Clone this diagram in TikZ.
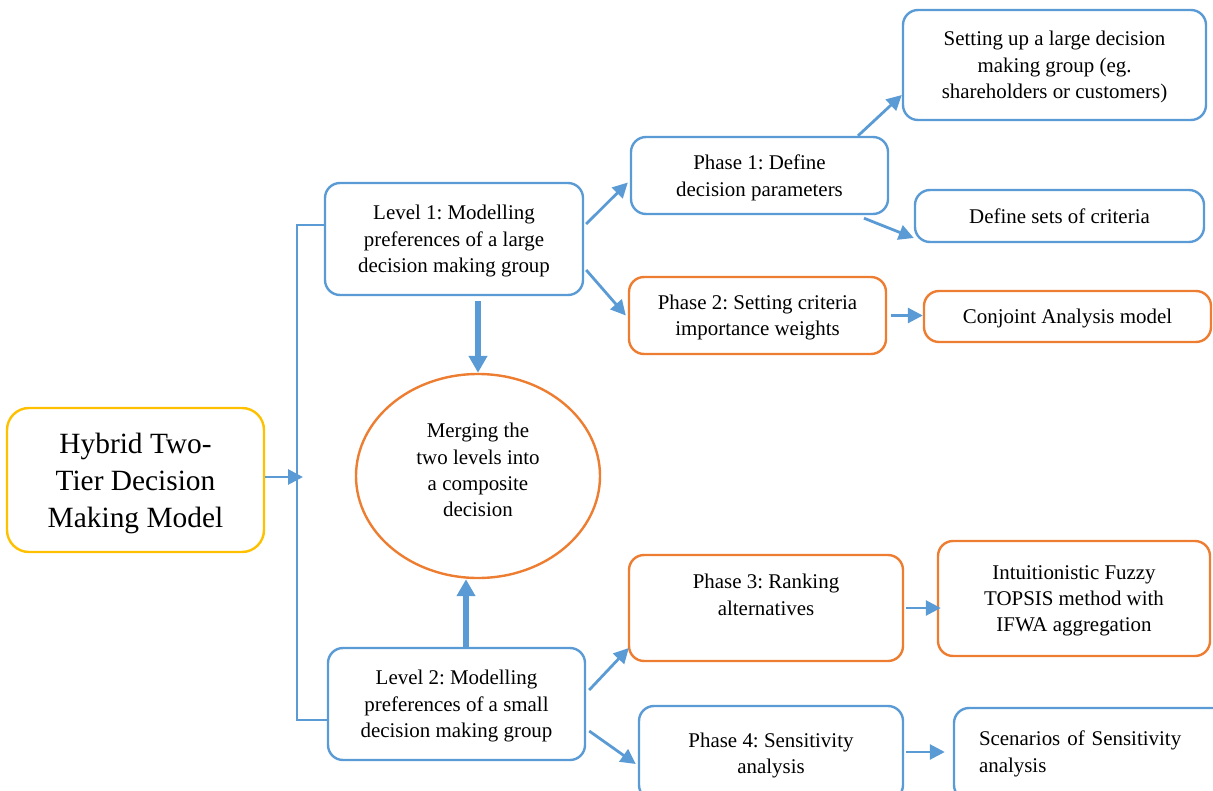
\documentclass[tikz,border=0pt]{standalone}
\usepackage{fontspec}
\setmainfont{Liberation Serif}
\usetikzlibrary{arrows.meta,shapes.geometric}
\definecolor{boxblue}{HTML}{5B9BD5}
\definecolor{boxorange}{HTML}{ED7D31}
\definecolor{boxgold}{HTML}{FFC000}
\frenchspacing

\begin{document}
\begin{tikzpicture}[x=1bp,y=-1bp,
  boxbase/.style={draw, rounded corners=15bp, line width=2.4bp, inner sep=0pt,
              align=center, font=\fontsize{21}{26.5}\selectfont},
  box/.style={boxbase, text depth=0pt},
  bluebox/.style={box, draw=boxblue},
  orangebox/.style={box, draw=boxorange},
  link/.style={draw=boxblue, line width=2.8bp, -{Triangle[length=15bp,width=15bp]}},
  biglink/.style={draw=boxblue, line width=6bp, -{Triangle[length=17bp,width=18bp]}},
  bracket/.style={draw=boxblue, line width=1.2bp}]
\useasboundingbox (0,0) rectangle (1213,791);
\clip (0,0) rectangle (1213,791);

% root of the model
\node[box, draw=boxgold, rounded corners=22bp, minimum width=257bp, minimum height=144bp,
      font=\fontsize{29.5}{37}\selectfont] (main) at (135.5,480)
  {Hybrid Two-\\Tier Decision\\Making Model};

% the two levels
\node[bluebox, minimum width=258bp, minimum height=112bp] (lvlone) at (454,239)
  {Level 1: Modelling\\preferences of a large\\decision making group};
\node[bluebox, minimum width=257bp, minimum height=112bp] (lvltwo) at (456.5,704)
  {Level 2: Modelling\\preferences of a small\\decision making group};

% composite decision
\node[draw=boxorange, line width=2.4bp, ellipse, inner sep=0pt,
      minimum width=244bp, minimum height=204bp] (merge) at (478,476) {};
\node[align=center, inner sep=0pt, text depth=0pt, font=\fontsize{21}{26.5}\selectfont] (mergetext) at (478,470)
  {Merging the\\two levels into\\a composite\\decision};

% level 1 phases
\node[bluebox, minimum width=257bp, minimum height=77bp] (pone) at (759.5,175.5)
  {Phase 1: Define\\decision parameters};
\node[bluebox, minimum width=303bp, minimum height=110bp] (setup) at (1054.5,65)
  {Setting up a large decision\\making group (eg.\\shareholders or customers)};
\node[bluebox, minimum width=289bp, minimum height=52bp] (defsets) at (1059.5,216)
  {Define sets of criteria};
\node[orangebox, minimum width=257bp, minimum height=77bp] (ptwo) at (757.5,315.5)
  {Phase 2: Setting criteria\\importance weights};
\node[orangebox, minimum width=287bp, minimum height=51bp] (conj) at (1067.5,316.5)
  {Conjoint Analysis model};

% level 2 phases
\node[orangebox, minimum width=274bp, minimum height=106bp] (pthree) at (766,608)
  {Phase 3: Ranking\\alternatives\\\mbox{}};
\node[orangebox, minimum width=272bp, minimum height=115bp] (ifwa) at (1074,598.5)
  {Intuitionistic Fuzzy\\TOPSIS method with\\IFWA aggregation};
\node[bluebox, minimum width=264bp, minimum height=94bp] (pfour) at (771,753)
  {Phase 4: Sensitivity\\analysis};
\node[boxbase, draw=boxblue, align=left, inner xsep=25bp, text width=236bp, minimum height=92bp] (scen) at (1097,754)
  {Scenarios of Sensitivity\\analysis};

% bracket joining the two levels
\coordinate (btop) at (297,225);
\coordinate (bbot) at (297,720);
\coordinate (btip) at (303,477);
\draw[bracket] (btop -| lvlone.west) -- (btop) -- (bbot) -- (bbot -| lvltwo.west);
\draw[link] (main.east |- btip) -- (btip);

% connectors
\draw[link] ([xshift=2bp,yshift=15bp]lvlone.east) -- ([xshift=-2bp,yshift=-7bp]pone.west);
\draw[link] ([xshift=2bp,yshift=-31bp]lvlone.east) -- ([xshift=-2bp]ptwo.west);
\draw[biglink] ([yshift=-5bp]merge.north |- lvlone.south) -- (merge.north);
\draw[biglink] ([xshift=-12bp,yshift=-1bp]merge.south |- lvltwo.north) -- ([xshift=-12bp]merge.south);
\draw[link] ([xshift=98.5bp]pone.north) -- ([yshift=-30bp]setup.west);
\draw[link] ([xshift=104.5bp,yshift=-3bp]pone.south) -- ([yshift=-22bp]defsets.west);
\draw[link] ([xshift=4bp]ptwo.east) -- (ptwo.east -| conj.west);
\draw[link] ([xshift=3bp,yshift=14bp]lvltwo.east) -- ([xshift=1bp,yshift=-40bp]pthree.west);
\draw[link] ([xshift=3bp,yshift=-27bp]lvltwo.east) -- ([xshift=-2bp,yshift=-11bp]pfour.west);
\draw[link] ([xshift=2bp]pthree.east) -- ([xshift=4bp]pthree.east -| ifwa.west);
\draw[link] ([xshift=2bp,yshift=1bp]pfour.east) -- ([xshift=-8bp,yshift=1bp]pfour.east -| scen.west);
\end{tikzpicture}
\end{document}
